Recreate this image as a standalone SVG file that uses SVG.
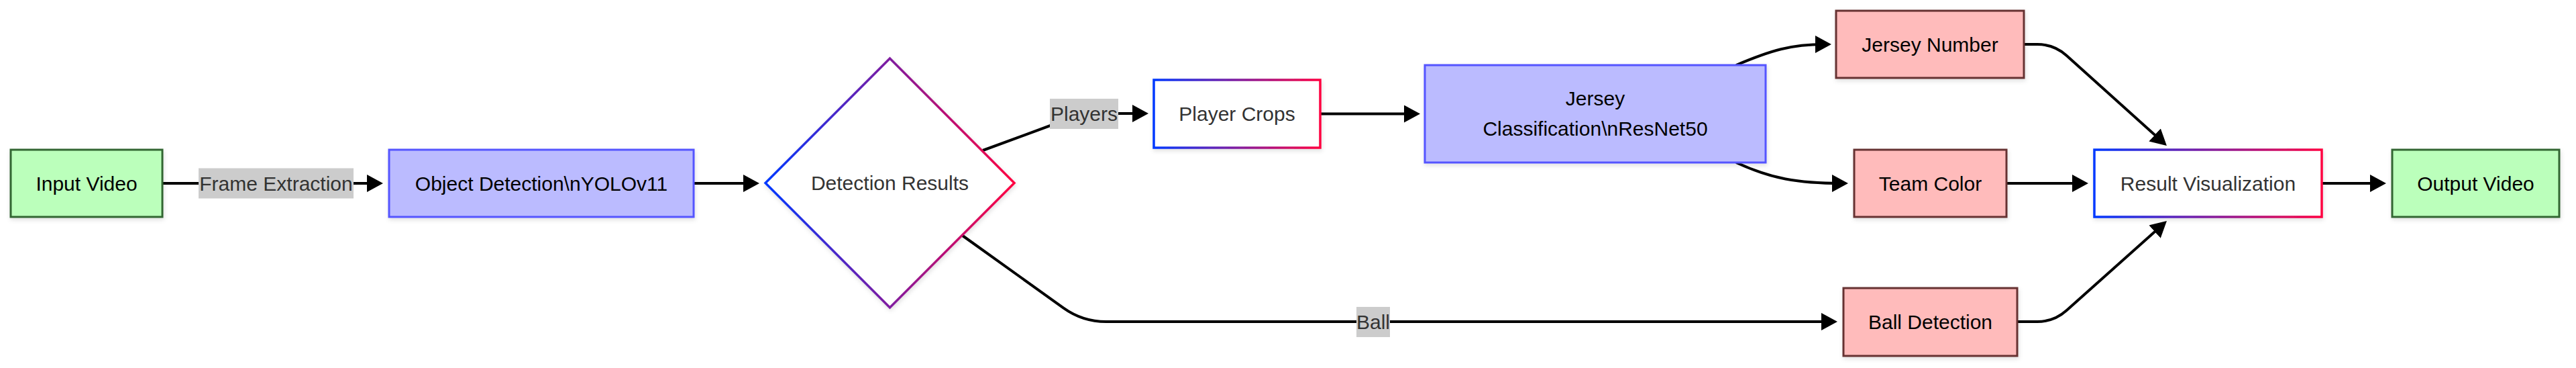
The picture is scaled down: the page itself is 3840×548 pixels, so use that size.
<svg xmlns="http://www.w3.org/2000/svg" width="3840" height="548" viewBox="0 0 3840 548">
  <defs>
    <linearGradient id="grad" x1="0" y1="0" x2="1" y2="0">
      <stop offset="0" stop-color="#0038ff"/>
      <stop offset="1" stop-color="#ff0040"/>
    </linearGradient>
    <filter id="shadow" x="-10%" y="-10%" width="120%" height="130%">
      <feDropShadow dx="1" dy="3" stdDeviation="3" flood-color="#000" flood-opacity="0.12"/>
    </filter>
    <marker id="arr" viewBox="0 0 24 26" refX="14" refY="13" markerWidth="24" markerHeight="26" markerUnits="userSpaceOnUse" orient="auto">
      <path d="M0,0 L24,13 L0,26 z" fill="#000"/>
    </marker>
    <style>
      text { font-family: "Liberation Sans", Arial, sans-serif; font-size: 30px; text-anchor: middle; }
      .green { fill: #bbffbb; stroke: #336633; stroke-width: 3; filter: url(#shadow); }
      .blue { fill: #bbbbff; stroke: #5555ff; stroke-width: 3; filter: url(#shadow); }
      .red { fill: #ffbbbb; stroke: #663333; stroke-width: 3; filter: url(#shadow); }
      .grad { fill: #ffffff; stroke: url(#grad); stroke-width: 3.5; filter: url(#shadow); }
      .dark { fill: #000000; }
      .gray { fill: #333333; }
      .edge { fill: none; stroke: #000; stroke-width: 4; marker-end: url(#arr); }
      .lblbg { fill: #cccccc; }
    </style>
  </defs>
  <rect width="3840" height="548" fill="#ffffff"/>

  <g id="connectors">
    <path class="edge" d="M242,273 L561,273"/>
    <path class="edge" d="M1034,273 L1122,273"/>
    <path class="edge" d="M1465,224 L1590,178 Q1614,169 1640,169 L1702,169"/>
    <path class="edge" d="M1968,169.5 L2107,169.5"/>
    <path class="edge" d="M2588,97 C2640,75 2670,66 2720,66"/>
    <path class="edge" d="M2588,242 C2640,266 2680,273 2745,273"/>
    <path class="edge" d="M2991,273 L3103,273"/>
    <path class="edge" d="M3017,66 L3037,66 Q3062,66 3080.6,82.7 L3222.5,210.3"/>
    <path class="edge" d="M3007,479 L3037,479 Q3062,479 3080.6,462.3 L3222.5,335.7"/>
    <path class="edge" d="M3461,273 L3547,273"/>
    <path class="edge" d="M1435,351 L1585.3,458.6 Q1613.8,479 1648.8,479 L2729,479"/>
  </g>

  <g id="edge-labels">
    <g id="label-frame-extraction">
      <rect class="lblbg" x="296" y="250.5" width="231" height="45"/>
      <text class="gray" x="411.5" y="283.5">Frame Extraction</text>
    </g>
    <g id="label-players">
      <rect class="lblbg" x="1565" y="147" width="102" height="45"/>
      <text class="gray" x="1616" y="180">Players</text>
    </g>
    <g id="label-ball">
      <rect class="lblbg" x="2022" y="457" width="50" height="45"/>
      <text class="gray" x="2047" y="490">Ball</text>
    </g>
  </g>

  <g id="node-input-video">
    <rect class="green" x="16" y="223" width="226" height="100"/>
    <text class="dark" x="129" y="283.5">Input Video</text>
  </g>
  <g id="node-object-detection">
    <rect class="blue" x="580" y="223" width="454" height="100"/>
    <text class="dark" x="807" y="283.5">Object Detection\nYOLOv11</text>
  </g>
  <g id="node-detection-results">
    <polygon class="grad" points="1326.5,87 1512,272.5 1326.5,458 1141,272.5"/>
    <text class="gray" x="1326.5" y="283">Detection Results</text>
  </g>
  <g id="node-player-crops">
    <rect class="grad" x="1720" y="119" width="248" height="101"/>
    <text class="gray" x="1844" y="180">Player Crops</text>
  </g>
  <g id="node-jersey-classification">
    <rect class="blue" x="2124" y="97" width="508" height="145"/>
    <text class="dark" x="2378" y="157">Jersey</text>
    <text class="dark" x="2378" y="202">Classification\nResNet50</text>
  </g>
  <g id="node-jersey-number">
    <rect class="red" x="2737" y="16" width="280" height="100"/>
    <text class="dark" x="2877" y="76.5">Jersey Number</text>
  </g>
  <g id="node-team-color">
    <rect class="red" x="2764" y="223" width="227" height="100"/>
    <text class="dark" x="2877.5" y="283.5">Team Color</text>
  </g>
  <g id="node-ball-detection">
    <rect class="red" x="2748" y="429" width="259" height="101"/>
    <text class="dark" x="2877.5" y="490">Ball Detection</text>
  </g>
  <g id="node-result-visualization">
    <rect class="grad" x="3122" y="223" width="339" height="100"/>
    <text class="gray" x="3291.5" y="283.5">Result Visualization</text>
  </g>
  <g id="node-output-video">
    <rect class="green" x="3566" y="223" width="249" height="100"/>
    <text class="dark" x="3690.5" y="283.5">Output Video</text>
  </g>
</svg>
